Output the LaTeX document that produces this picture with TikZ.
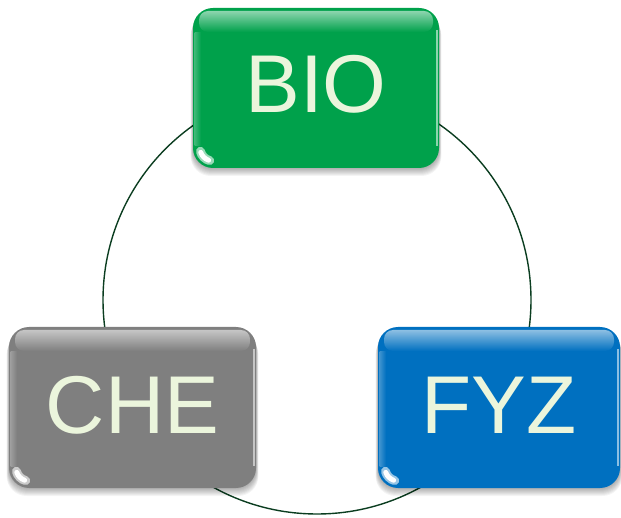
\documentclass[tikz,border=0pt]{standalone}
\usepackage{fontspec}
\setmainfont{Liberation Sans}
\usetikzlibrary{calc}
\definecolor{biogreen}{HTML}{00A14B}
\definecolor{chegray}{HTML}{7F7F7F}
\definecolor{fyzblue}{HTML}{0070C0}
\definecolor{labeltext}{HTML}{EBF5DC}
\definecolor{ringline}{HTML}{0B3D20}
\tikzset{
  gelbox/.style={rectangle, rounded corners=20pt, inner sep=0pt, outer sep=0pt},
  gellabel/.style={anchor=base, text=labeltext, font=\fontsize{82}{82}\selectfont, inner sep=0pt},
  ring/.style={draw=ringline, line width=1.4pt},
}
% #1 name, #2 x1, #3 y1, #4 x2, #5 y2, #6 colour, #7 text
\newcommand\gelitem[7]{%
  \foreach \s in {1,...,8}
    \fill[black, opacity=0.045, rounded corners=20pt]
      ({#2-0.3*\s},{#3+\s}) rectangle ({#4+0.3*\s},{#5+\s});
  \node[gelbox, fill=#6, minimum width={(#4-#2)*1pt}, minimum height={(#5-#3)*1pt}]
    (#1) at ({(#2+#4)/2},{(#3+#5)/2}) {};
  \shade[rounded corners=9pt, top color=#6!45!white, bottom color=#6]
    ({#2+6},{#3+3}) rectangle ({#4-6},{#3+24});
  \shade[left color=#6!65!white, right color=#6, opacity=0.7]
    ({#2+1.5},{#3+25}) rectangle ({#2+8},{#5-22});
  \draw[#6!45!white, line width=1.6pt] ({#4-1.8},{#3+22}) -- ({#4-1.8},{#5-22});
  \begin{scope}
    \clip[rounded corners=20pt] (#2,#3) rectangle (#4,#5);
    \draw[#6!40!white, line width=9pt, line cap=round]
      ({#2+20+13*cos(195)},{#5-20-13*sin(195)}) arc[start angle=195, end angle=255, radius=13pt];
    \draw[white, line width=5pt, line cap=round]
      ({#2+20+13*cos(200)},{#5-20-13*sin(200)}) arc[start angle=200, end angle=250, radius=13pt];
  \end{scope}
  \node[gellabel] (#1text) at ($(#1.south)+(0,-55)$) {#7};
}
\begin{document}
\begin{tikzpicture}[x=1pt, y=-1pt]
  \useasboundingbox (0,0) rectangle (621,518);
  \coordinate (hub) at (317,300);
  \draw[ring] (hub) circle[radius=214pt];
  \gelitem{bio}{193}{8}{439}{168}{biogreen}{BIO}
  \gelitem{che}{9}{327}{256}{488}{chegray}{CHE}
  \gelitem{fyz}{378}{327}{620}{488}{fyzblue}{FYZ}
\end{tikzpicture}
\end{document}
